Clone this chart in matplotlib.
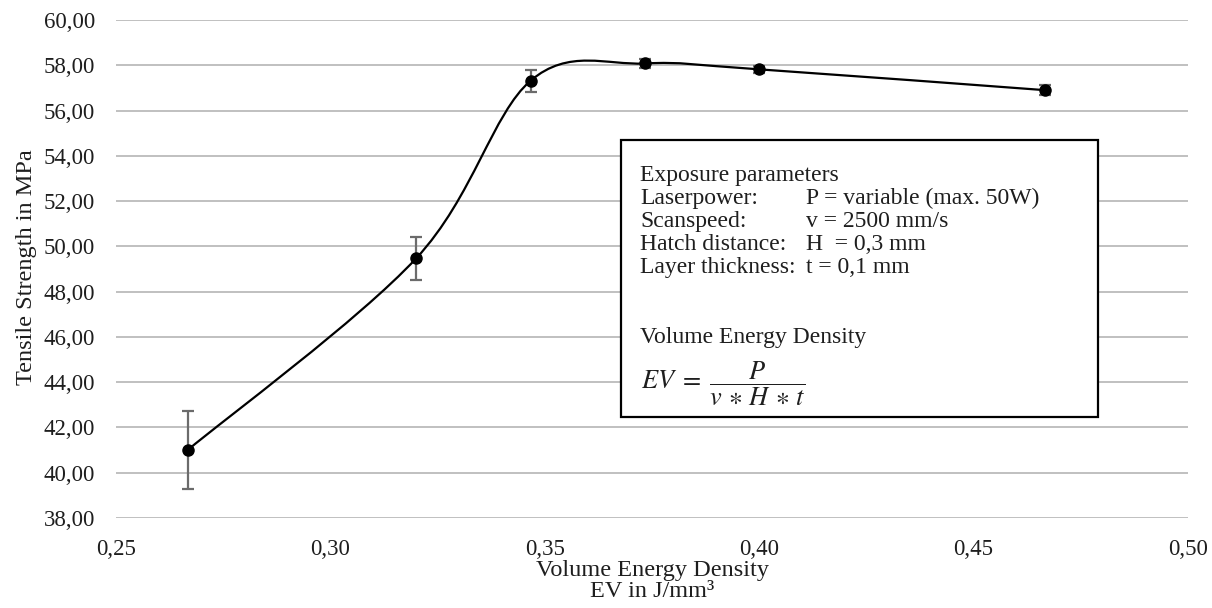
"""Tensile strength vs. volume energy density, Excel-style smoothed line."""
import numpy as np
import matplotlib

matplotlib.use("Agg")
import matplotlib.pyplot as plt
from matplotlib.path import Path
from matplotlib.patches import PathPatch, Rectangle

# data
ev = [0.2667, 0.3200, 0.3467, 0.3733, 0.4000, 0.4667]
strength = [41.00, 49.47, 57.32, 58.08, 57.82, 56.90]
strength_err = [1.72, 0.94, 0.48, 0.20, 0.15, 0.22]

y_ticks = [38, 40, 42, 44, 46, 48, 50, 52, 54, 56, 58, 60]
x_ticks = [0.25, 0.30, 0.35, 0.40, 0.45, 0.50]

W, H = 1212, 608
plt.rcParams["font.family"] = ["Liberation Serif", "DejaVu Serif"]
plt.rcParams["mathtext.fontset"] = "stix"
TXT = "#1e1e1e"


def px(x, y):
    # pixel position -> figure fraction
    return x / W, 1 - y / H


def smooth_path(xs, ys):
    # Excel-like smoothing: cubic Bezier, control points from neighbours / 6
    pts = np.column_stack([xs, ys])
    n = len(pts)
    verts = [pts[0]]
    codes = [Path.MOVETO]
    for i in range(n - 1):
        p0 = pts[max(i - 1, 0)]
        p1 = pts[i]
        p2 = pts[i + 1]
        p3 = pts[min(i + 2, n - 1)]
        c1 = p1 + (p2 - p0) / 6.0
        c2 = p2 - (p3 - p1) / 6.0
        verts += [c1, c2, p2]
        codes += [Path.CURVE4] * 3
    return Path(verts, codes)


fig = plt.figure(figsize=(W / 100, H / 100), dpi=100)
ax = fig.add_axes([116 / W, 1 - 518 / H, 1072 / W, 498 / H])

ax.set_xlim(0.25, 0.50)
ax.set_ylim(38, 60)
ax.set_xticks(x_ticks)
ax.set_yticks(y_ticks)
ax.set_xticklabels([f"{v:.2f}".replace(".", ",") for v in x_ticks])
ax.set_yticklabels([f"{v:.2f}".replace(".", ",") for v in y_ticks])
ax.tick_params(length=0, labelsize=16.5, colors=TXT)
ax.tick_params(axis="y", pad=15)
ax.tick_params(axis="x", pad=15)
for s in ax.spines.values():
    s.set_visible(False)
ax.grid(axis="y", color="#c0c0c0", linewidth=1.4)
ax.set_axisbelow(True)

ax.add_patch(PathPatch(smooth_path(ev, strength), facecolor="none",
                       edgecolor="black", linewidth=1.6, zorder=3))
ax.errorbar(ev, strength, yerr=strength_err, fmt="none", ecolor="#6b6b6b",
            elinewidth=1.6, capsize=4.5, capthick=1.6, zorder=4)
ax.plot(ev, strength, linestyle="none", marker="o", markersize=8,
        color="black", zorder=5)

# axis titles
fig.text(*px(27, 267), "Tensile Strength in MPa", rotation=90,
         ha="center", va="center", fontsize=17.5, color=TXT)
fig.text(*px(652, 581), "Volume Energy Density\nEV in J/mm³", ha="center",
         va="center", fontsize=17.5, linespacing=0.95, color=TXT)

# info box
box = Rectangle(px(621, 417), (1098 - 621) / W, (417 - 140) / H,
                transform=fig.transFigure, facecolor="white",
                edgecolor="black", linewidth=1.6, zorder=10)
fig.patches.append(box)

fs = 17
col = 806
rows = [
    (181, "Exposure parameters", None),
    (204, "Laserpower:", "P = variable (max. 50W)"),
    (227, "Scanspeed:", "v = 2500 mm/s"),
    (250, "Hatch distance:", "H  = 0,3 mm"),
    (273, "Layer thickness:", "t = 0,1 mm"),
    (343, "Volume Energy Density", None),
]
for y, label, value in rows:
    fig.text(*px(640, y), label, ha="left", va="baseline", fontsize=fs,
             color=TXT, zorder=11)
    if value:
        fig.text(*px(col, y), value, ha="left", va="baseline", fontsize=fs,
                 color=TXT, zorder=11)
fig.text(*px(641, 390), r"$EV\;=\;\dfrac{P}{v\,\ast\,H\,\ast\,t}$",
         ha="left", va="baseline", fontsize=19, color=TXT, zorder=11)

fig.savefig("out.png", dpi=100)
